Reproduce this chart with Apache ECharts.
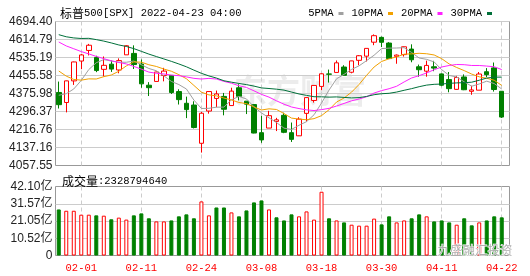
<!DOCTYPE html>
<html><head><meta charset="utf-8">
<script src="https://cdn.jsdelivr.net/npm/echarts@6/dist/echarts.min.js"></script>
<style>html,body{margin:0;padding:0;background:#fff}#c{width:530px;height:276px}</style>
</head><body><div id="c"></div>
<script>
const titleName = '标普500[SPX]';
const titleTime = '2022-04-23 04:00';
const dates = ['01-27','01-28','01-31','02-01','02-02','02-03','02-04','02-07','02-08','02-09','02-10','02-11','02-14','02-15','02-16','02-17','02-18','02-22','02-23','02-24','02-25','02-28','03-01','03-02','03-03','03-04','03-07','03-08','03-09','03-10','03-11','03-14','03-15','03-16','03-17','03-18','03-21','03-22','03-23','03-24','03-25','03-28','03-29','03-30','03-31','04-01','04-04','04-05','04-06','04-07','04-08','04-11','04-12','04-13','04-14','04-18','04-19','04-20','04-21','04-22'];
const openP = [4380.58,4336.19,4431.79,4519.57,4566.39,4535.41,4482.79,4505.75,4480.02,4547.00,4553.24,4506.27,4412.61,4429.28,4455.75,4456.06,4384.57,4332.74,4324.93,4155.77,4298.38,4354.17,4363.14,4322.56,4401.31,4342.12,4327.01,4202.66,4223.10,4252.55,4279.50,4202.75,4188.82,4288.14,4345.11,4407.34,4462.40,4469.10,4493.10,4469.98,4522.66,4541.09,4602.86,4624.20,4599.02,4540.32,4547.97,4572.45,4494.17,4474.65,4494.15,4462.64,4437.59,4394.30,4449.12,4385.63,4390.63,4472.26,4489.17,4385.83];
const closeP = [4326.51,4431.85,4515.55,4546.54,4589.38,4477.44,4500.53,4483.87,4521.54,4587.18,4504.08,4418.64,4401.67,4471.07,4475.01,4380.26,4348.87,4304.76,4225.50,4288.70,4384.65,4373.94,4306.26,4386.54,4363.49,4328.87,4201.09,4170.70,4277.88,4259.52,4204.31,4173.11,4262.45,4357.86,4411.67,4463.12,4461.18,4511.61,4456.24,4520.16,4543.06,4575.52,4631.60,4602.45,4530.41,4545.86,4582.64,4525.12,4481.15,4500.21,4488.28,4412.53,4397.45,4446.59,4392.59,4391.69,4462.21,4459.45,4393.66,4271.78];
const lowP = [4309.50,4292.46,4414.02,4483.53,4544.32,4470.39,4451.50,4471.47,4465.40,4547.00,4484.31,4401.41,4364.84,4429.28,4429.68,4373.81,4327.22,4267.11,4221.51,4114.65,4286.83,4315.12,4279.54,4322.56,4345.56,4284.98,4199.85,4157.87,4223.10,4209.80,4200.49,4161.72,4187.90,4251.99,4335.65,4390.57,4424.30,4469.10,4455.81,4465.17,4501.07,4517.69,4589.66,4581.32,4530.41,4507.57,4539.21,4514.17,4450.04,4450.30,4474.60,4408.38,4381.34,4392.70,4390.77,4370.30,4390.63,4448.76,4384.47,4267.62];
const highP = [4428.74,4432.72,4516.89,4550.49,4595.31,4542.88,4539.66,4521.86,4531.32,4590.03,4588.92,4526.33,4426.22,4472.77,4489.55,4456.06,4394.60,4362.12,4341.51,4294.73,4385.34,4388.84,4378.45,4401.48,4416.78,4342.12,4327.01,4276.94,4299.40,4268.28,4291.01,4247.57,4271.05,4358.90,4412.67,4465.40,4481.75,4522.00,4501.07,4520.58,4546.03,4575.65,4637.30,4627.77,4603.07,4548.70,4583.50,4593.45,4503.94,4521.16,4520.41,4464.35,4471.00,4453.92,4460.46,4410.31,4471.03,4488.29,4512.94,4385.83];
const prevClose = 4349.93;
const ma5 = [4368.19,4374.97,4396.06,4434.08,4481.97,4512.15,4525.89,4519.55,4514.55,4514.11,4519.44,4503.06,4486.62,4476.53,4454.09,4429.33,4415.38,4395.99,4346.88,4309.62,4310.50,4315.51,4315.81,4348.02,4362.98,4351.82,4317.25,4290.14,4268.41,4247.61,4222.70,4217.10,4235.45,4251.45,4281.88,4333.64,4391.26,4441.09,4460.76,4482.46,4498.45,4521.32,4545.32,4574.56,4576.61,4577.17,4578.59,4557.30,4533.04,4527.00,4515.48,4481.46,4455.92,4449.01,4427.49,4408.17,4418.11,4430.51,4419.92,4395.76];
const ma10 = [4475.54,4452.83,4438.10,4435.04,4440.70,4440.17,4450.43,4457.81,4474.31,4498.04,4515.80,4514.48,4503.09,4495.54,4484.10,4474.39,4459.22,4441.31,4411.70,4381.86,4369.91,4365.44,4355.90,4347.45,4336.30,4331.16,4316.38,4302.97,4308.21,4305.29,4287.26,4267.18,4262.80,4259.93,4264.75,4278.17,4304.18,4338.27,4356.11,4382.17,4416.05,4456.29,4493.20,4517.66,4529.54,4537.81,4549.96,4551.31,4553.80,4551.80,4546.32,4530.03,4506.61,4491.02,4477.24,4461.83,4449.78,4443.22,4434.47,4411.62];
const ma20 = [4603.69,4586.35,4573.82,4561.31,4551.11,4539.95,4530.17,4520.52,4513.08,4506.78,4495.67,4483.65,4470.59,4465.29,4462.40,4457.28,4454.83,4449.56,4443.01,4439.95,4442.85,4439.96,4429.49,4421.49,4410.20,4402.77,4387.80,4372.14,4359.96,4343.58,4328.59,4316.31,4309.35,4303.69,4300.52,4304.66,4310.28,4320.62,4332.16,4343.73,4351.65,4361.73,4378.00,4388.79,4397.14,4407.99,4427.07,4444.79,4454.95,4466.99,4481.19,4493.16,4499.91,4504.34,4503.39,4499.82,4499.87,4497.26,4494.13,4481.71];
const ma30 = [4636.11,4626.84,4621.74,4619.27,4619.98,4614.25,4607.72,4599.65,4590.66,4584.03,4574.39,4562.39,4550.24,4539.39,4528.77,4518.09,4506.52,4494.11,4479.29,4465.14,4453.75,4444.25,4432.36,4426.01,4420.37,4415.24,4408.68,4400.70,4398.08,4395.06,4390.99,4382.37,4373.93,4367.64,4361.72,4361.24,4359.93,4360.85,4358.67,4356.44,4357.74,4362.97,4370.63,4375.01,4376.86,4382.38,4390.17,4397.52,4406.04,4413.09,4416.54,4417.83,4420.87,4422.87,4423.84,4425.94,4434.64,4444.26,4448.12,4448.53];
const volumeYi = [28.1,27.3,27.3,24.9,24.9,24.5,24.3,22.1,23.1,21.9,24.5,25.7,22.7,20.8,20.8,21.4,23.9,25.1,22.7,33.0,24.5,29.3,29.3,26.3,23.9,27.5,32.4,33.6,28.1,23.3,21.4,25.1,23.9,26.9,21.9,38.9,22.7,21.4,20.2,18.8,18.2,18.2,22.5,19.0,23.9,20.2,21.4,22.7,25.1,23.9,20.8,21.4,20.2,18.8,22.7,18.4,20.2,21.4,23.9,23.29];
const latestVolume = 2328794640;
const priceTickLabels = ['4057.55','4137.16','4216.76','4296.37','4375.98','4455.58','4535.19','4614.79','4694.40'];
const volTickLabels = ['0','10.52亿','21.05亿','31.57亿','42.10亿'];
const xTickLabels = ['02-01','02-11','02-24','03-08','03-18','03-30','04-11','04-22'];
const maNames = ['5PMA','10PMA','20PMA','30PMA'];

const Y0 = parseFloat(priceTickLabels[0]), Y1 = parseFloat(priceTickLabels[8]);
const YI = (Y1 - Y0) / 8;
const V1 = parseFloat(volTickLabels[4]), VI = V1 / 4;
const RED = '#ff0000', GREEN = '#008000';
const maColors = ['#a0a0a0', '#f2a100', '#ff22ff', '#00703a'];
const maData = [ma5, ma10, ma20, ma30];

const candleData = dates.map((d, i) => [openP[i], closeP[i], lowP[i], highP[i]]);
const volData = volumeYi.map((v, i) => {
  const pc = i ? closeP[i - 1] : prevClose;
  const up = closeP[i] >= pc;
  return { value: v, itemStyle: up ? { color: '#fff', borderColor: RED, borderWidth: 1 } : { color: GREEN, borderColor: GREEN, borderWidth: 1 } };
});

const dashSplit = { show: true, alignWithLabel: true, interval: (i, v) => xTickLabels.includes(v), lineStyle: { color: '#cccccc', type: [4, 3], width: 1 } };
const labelFont = 'Liberation Sans, Noto Sans CJK SC, sans-serif';
const richTitle = { a: { fontFamily: 'Noto Sans CJK SC', fontSize: 12, fontWeight: 'normal', color: '#000' }, b: { fontFamily: 'Liberation Mono', fontSize: 10.5, fontWeight: 'normal', color: '#000' } };

const chart = echarts.init(document.getElementById('c'), null, { renderer: 'canvas' });
chart.setOption({
  animation: false,
  backgroundColor: '#fff',
  title: [
    { left: 55, top: 2, text: '{a|' + titleName.slice(0, 2) + '}{b|' + titleName.slice(2) + ' ' + titleTime + '}',
      textStyle: { fontWeight: 'normal', rich: richTitle } },
    { left: 57, top: 170, text: '{a|成交量}{b|:' + latestVolume + '}',
      textStyle: { fontWeight: 'normal', rich: richTitle } }
  ],
  legend: {
    data: maNames, right: 33, top: 3, align: 'right', icon: 'rect', itemWidth: 5, itemHeight: 3, itemGap: 8,
    textStyle: { fontFamily: 'Liberation Mono', fontSize: 10.5, color: '#000' }
  },
  grid: [
    { left: 55.5, top: 21.5, width: 454, height: 144, show: true, borderColor: '#999', borderWidth: 1, backgroundColor: 'transparent' },
    { left: 55, top: 21.5, width: 450.5, height: 144 },
    { left: 55.5, top: 186.5, width: 454, height: 69, show: true, borderColor: '#999', borderWidth: 1, backgroundColor: 'transparent' },
    { left: 55, top: 186.5, width: 450.5, height: 69 }
  ],
  xAxis: [
    { type: 'value', gridIndex: 0, show: false, min: 0, max: 1 },
    { type: 'category', gridIndex: 1, data: dates, boundaryGap: true, axisLine: { show: false }, axisTick: { show: false }, axisLabel: { show: false }, splitLine: dashSplit },
    { type: 'value', gridIndex: 2, show: false, min: 0, max: 1 },
    { type: 'category', gridIndex: 3, data: dates, boundaryGap: true, axisLine: { show: false }, axisTick: { show: false },
      axisLabel: { show: true, interval: (i, v) => xTickLabels.includes(v), color: RED, fontFamily: 'Liberation Mono', fontSize: 10.5, margin: 7 },
      splitLine: dashSplit }
  ],
  yAxis: [
    { type: 'value', gridIndex: 0, min: Y0, max: Y1, interval: YI, axisLine: { show: false }, axisTick: { show: false },
      axisLabel: { margin: 3, color: '#222', fontFamily: labelFont, fontSize: 12, formatter: v => priceTickLabels[Math.round((v - Y0) / YI)] || '' },
      splitLine: { show: true, showMinLine: false, showMaxLine: false, lineStyle: { color: '#cccccc' } } },
    { type: 'value', gridIndex: 1, min: Y0, max: Y1, show: false },
    { type: 'value', gridIndex: 2, min: 0, max: V1, interval: VI, axisLine: { show: false }, axisTick: { show: false },
      axisLabel: { margin: 3, color: '#222', fontFamily: labelFont, fontSize: 12, formatter: v => volTickLabels[Math.round(v / VI)] || '' },
      splitLine: { show: true, showMinLine: false, showMaxLine: false, lineStyle: { color: '#cccccc' } } },
    { type: 'value', gridIndex: 3, min: 0, max: V1, show: false }
  ],
  graphic: [
    { type: 'text', left: 234, top: 74, z: 0, silent: true, style: { text: '东方财富', fontSize: 33, fontWeight: 'bold', fontFamily: 'Noto Sans CJK SC', fill: '#ececec' } },
    { type: 'text', left: 437, top: 243, z: 100, silent: true, style: { text: '九盛融汇投资', fontSize: 12.5, fontFamily: 'Noto Sans CJK SC', fill: 'rgba(160,160,160,0.85)', stroke: '#fff', lineWidth: 1 } }
  ],
  series: [
    { type: 'candlestick', name: 'K', xAxisIndex: 1, yAxisIndex: 1, data: candleData, barWidth: 5,
      itemStyle: { color: '#fff', color0: GREEN, borderColor: RED, borderColor0: GREEN, borderWidth: 1 } },
    ...maNames.map((n, k) => ({ type: 'line', name: n, xAxisIndex: 1, yAxisIndex: 1, data: maData[k], symbol: 'none', smooth: false,
      color: maColors[k], itemStyle: { color: maColors[k] }, lineStyle: { color: maColors[k], width: 1 } })),
    { type: 'bar', name: 'VOL', xAxisIndex: 3, yAxisIndex: 3, data: volData, barWidth: 4 }
  ]
});
</script></body></html>
